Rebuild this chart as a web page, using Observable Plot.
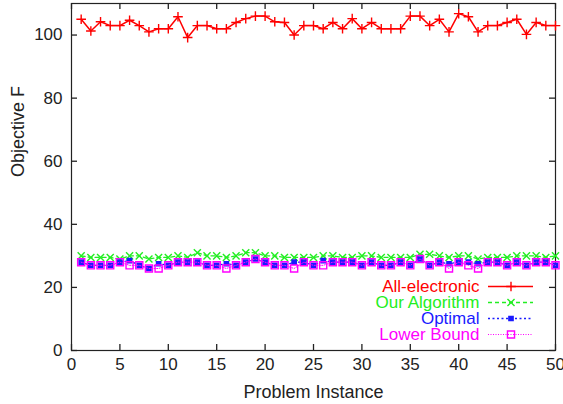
<!DOCTYPE html>
<html><head><meta charset="utf-8">
<script src="https://cdn.jsdelivr.net/npm/d3@7"></script>
<script src="https://cdn.jsdelivr.net/npm/@observablehq/plot@0.6"></script>
<style>body{margin:0;background:#fff}</style>
</head><body><div id="chart"></div>
<script>
const instances = [1,2,3,4,5,6,7,8,9,10,11,12,13,14,15,16,17,18,19,20,21,22,23,24,25,26,27,28,29,30,31,32,33,34,35,36,37,38,39,40,41,42,43,44,45,46,47,48,49,50];
const allElectronic = [105,101.3,104.2,103,103,104.7,103,101,102,102,105.8,99.2,103,103,102,102,104,105.2,106,106,104.2,104,100,103,103,102,104,102,105.2,102,104,102,102,102,106,106,103,105,101,106.8,105.8,101,103,103,104,105,100.2,104,103,103];
const ourAlgorithm = [30,29.5,29.5,29.5,29,30,30,29,29.5,29.5,30,29.5,31,30,30,29.5,30,31,31,30,30,29.5,29.5,29.5,29.5,30,30,29.5,29.5,30,30,29.5,29.5,29.5,29.5,30.5,30.5,30,29.5,30,30,29,29.5,29.5,29.5,30,30,30,29.5,30];
const optimal = [28,27,27,27,28,28.5,27,26,27.5,27,28,28,28,27,27,27.5,27,28,29,28,27,27,28,28,27,28.5,28,28,28,27,28,27,27,28,27,29,27,28,27.5,28,28,27.5,28,28,27,28,27,28,28,27];
const lowerBound = [28,27,27,27,28,27,27,26,26,27,28,28,28,27,27,26,27,28,29,28,27,27,26,28,27,27,28,28,28,27,28,27,27,28,27,29,27,28,26,28,27,26,28,28,27,28,27,28,28,27];
const seriesNames = ["All-electronic","Our Algorithm","Optimal","Lower Bound"];
const xTicks = [0,5,10,15,20,25,30,35,40,45,50];
const yTicks = [0,20,40,60,80,100];
const xLabel = "Problem Instance";
const yLabel = "Objective F";

const values = [allElectronic, ourAlgorithm, optimal, lowerBound];
const styles = [
  {color:"#ff0000", dash:null, width:1.5, symbol:"plus", r:3.2, fill:"none"},
  {color:"#22ee22", dash:"4,3", width:1.3, symbol:"times", r:3.3, fill:"none"},
  {color:"#1a1aff", dash:"2,2.5", width:1.3, symbol:"square", r:2.4, fill:"#1a1aff"},
  {color:"#ff00ff", dash:"1,1.5", width:1, symbol:"square", r:4, fill:"none"}
];
const rows = seriesNames.map((name, i) => ({name, data: instances.map((x, j) => ({x, y: values[i][j]}))}));

// frame size in px (for inward tick insets)
const W = 563, H = 404, mL = 71, mR = 8, mT = 3, mB = 54;
const fw = W - mL - mR, fh = H - mT - mB, tick = 6;

const marks = [Plot.frame({stroke:"#222", strokeWidth:1.2})];
rows.forEach((s, i) => {
  const st = styles[i];
  marks.push(Plot.line(s.data, {x:"x", y:"y", stroke:st.color, strokeWidth:st.width, strokeDasharray:st.dash}));
  marks.push(Plot.dot(s.data, {x:"x", y:"y", symbol:st.symbol, r:st.r, stroke:st.color, fill:st.fill, strokeWidth:1.4}));
});
// key at bottom-right inside the frame
const rowDy = [-64, -48, -32, -16];
rows.forEach((s, i) => {
  const st = styles[i];
  marks.push(Plot.text([s.name], {text: d => d, frameAnchor:"bottom-right", dx:-76, dy:rowDy[i], textAnchor:"end", lineAnchor:"middle", fill:st.color, fontSize:17}));
  marks.push(Plot.ruleY([0], {y: d => d, insetLeft:417, insetRight:22, dy:rowDy[i], stroke:st.color, strokeWidth:st.width, strokeDasharray:st.dash}));
  marks.push(Plot.dot([0], {frameAnchor:"bottom-right", dx:-44.5, dy:rowDy[i], symbol:st.symbol, r:st.r, stroke:st.color, fill:st.fill, strokeWidth:1.4}));
});
marks.push(
  Plot.axisX(xTicks, {anchor:"bottom", tickSize:0, tickPadding:7, fontSize:17, label:null}),
  Plot.axisY(yTicks, {anchor:"left", tickSize:0, tickPadding:9, fontSize:17, label:null}),
  Plot.tickX(xTicks, {x: d => d, insetTop: fh - tick, stroke:"#222", strokeWidth:1.3}),
  Plot.tickX(xTicks, {x: d => d, insetBottom: fh - tick, stroke:"#222", strokeWidth:1.3}),
  Plot.tickY(yTicks, {y: d => d, insetRight: fw - tick, stroke:"#222", strokeWidth:1.3}),
  Plot.tickY(yTicks, {y: d => d, insetLeft: fw - tick, stroke:"#222", strokeWidth:1.3}),
  Plot.text([xLabel], {text: d => d, frameAnchor:"bottom", dy:42, lineAnchor:"middle", fontSize:18, fill:"#222"}),
  Plot.text([yLabel], {text: d => d, frameAnchor:"left", dx:-53, rotate:-90, lineAnchor:"middle", fontSize:18, fill:"#222"})
);

const chart = Plot.plot({
  width:W, height:H,
  marginLeft:mL, marginRight:mR, marginTop:mT, marginBottom:mB,
  style:{fontFamily:"'Liberation Sans', Arial, sans-serif", fontSize:"17px", color:"#222", background:"#fff", overflow:"visible"},
  x:{domain:[0,50]},
  y:{domain:[0,110]},
  marks
});
document.getElementById("chart").appendChild(chart);
</script>
</body></html>
